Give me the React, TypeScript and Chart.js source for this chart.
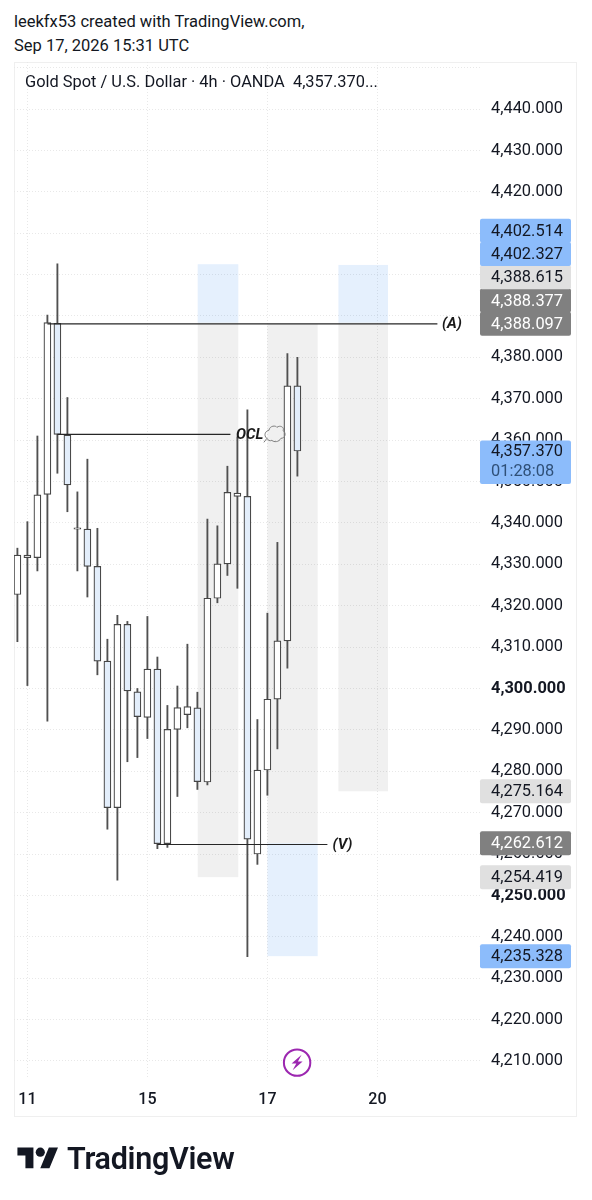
import React, { useEffect, useRef } from "react";
import { Chart, registerables } from "chart.js";

Chart.register(...registerables);

const candleOpen = [4322.7, 4331.6, 4331.6, 4346.9, 4388.2, 4361.2, 4338.5, 4338.5, 4329.5, 4306.6, 4271.2, 4315.5, 4299.2, 4293.0, 4304.7, 4262.5, 4290.1, 4293.7, 4295.3, 4277.4, 4321.8, 4330.1, 4346.4, 4346.4, 4260.0, 4280.3, 4297.4, 4311.5, 4373.1];
const candleHigh = [4333.9, 4340.3, 4361.0, 4390.2, 4402.6, 4370.3, 4347.5, 4355.4, 4338.7, 4311.9, 4317.7, 4316.2, 4300.0, 4317.4, 4307.6, 4295.9, 4300.6, 4310.7, 4299.1, 4340.9, 4339.3, 4353.7, 4360.8, 4367.3, 4292.5, 4318.2, 4335.3, 4380.9, 4380.0];
const candleLow = [4311.3, 4300.7, 4328.4, 4292.1, 4352.0, 4342.7, 4328.4, 4322.1, 4303.3, 4266.0, 4253.7, 4282.3, 4283.3, 4287.9, 4261.3, 4261.6, 4273.9, 4290.5, 4275.6, 4276.7, 4320.7, 4327.3, 4324.2, 4235.2, 4257.5, 4274.2, 4285.4, 4304.9, 4351.3];
const candleClose = [4332.2, 4332.2, 4346.8, 4388.4, 4361.4, 4349.2, 4338.8, 4329.5, 4306.6, 4271.2, 4315.5, 4299.4, 4293.2, 4304.7, 4262.5, 4290.1, 4295.4, 4295.6, 4277.5, 4321.8, 4330.1, 4347.4, 4347.2, 4263.6, 4280.3, 4297.4, 4311.5, 4373.1, 4357.37];

const yTickValues = [4450, 4440, 4430, 4420, 4410, 4400, 4390, 4380, 4370, 4360, 4350, 4340, 4330, 4320, 4310, 4300, 4290, 4280, 4270, 4260, 4250, 4240, 4230, 4220, 4210];
const boldTicks = [4300, 4250];
const xTickPositions = [1, 13, 25, 36];
const xTickLabels = ["11", "15", "17", "20"];

const zoneStart = [18.03, 25, 32.1];
const zoneEnd = [22.09, 30.03, 37.06];
const zoneTop = [4402.514, 4388.097, 4402.327];
const zoneMid = [4388.377, 4262.612, 4388.377];
const zoneBottom = [4254.419, 4235.328, 4275.164];
const zoneUpperKind = ["blue", "gray", "blue"];
const zoneLowerKind = ["gray", "blue", "gray"];

const lineA = [{ x: 3, y: 4388.1 }, { x: 42, y: 4388.1 }];
const lineOCL = [{ x: 4, y: 4361.4 }, { x: 21.3, y: 4361.4 }];
const lineV = [{ x: 14, y: 4262.3 }, { x: 31, y: 4262.3 }];
const noteTexts = ["(A)", "OCL", "(V)"];
const noteX = [42.45, 21.85, 31.5];
const noteY = [4388.1, 4361.4, 4262.3];

const priceLabelValues = [4402.514, 4402.327, 4388.615, 4388.377, 4388.097, 4275.164, 4262.612, 4254.419, 4235.328];
const priceLabelKinds = ["blue", "blue", "light", "dark", "dark", "light", "dark", "light", "blue"];
const currentPrice = 4357.37;
const countdown = "01:28:08";
const zapIndex = 27.97;
const zapPrice = 4209.6;

const fmt = (v: number, d = 3) =>
  v.toLocaleString("en-US", { minimumFractionDigits: d, maximumFractionDigits: d });

const FONT = "Roboto, sans-serif";
const labelStyles: Record<string, { bg: string; fg: string }> = {
  blue: { bg: "#8cbcfb", fg: "#131722" },
  light: { bg: "#e0e0e0", fg: "#131722" },
  dark: { bg: "#808080", fg: "#ffffff" },
};
const zoneColors: Record<string, string> = {
  blue: "rgba(41,132,240,0.12)",
  gray: "rgba(0,0,0,0.06)",
};

const zonesPlugin = {
  id: "zones",
  beforeDatasetsDraw(chart: any) {
    const { ctx, scales } = chart;
    const { x, y } = scales;
    ctx.save();
    zoneStart.forEach((s, i) => {
      const l = x.getPixelForValue(s);
      const r = x.getPixelForValue(zoneEnd[i]);
      const t = y.getPixelForValue(zoneTop[i]);
      const m = y.getPixelForValue(zoneMid[i]);
      const b = y.getPixelForValue(zoneBottom[i]);
      ctx.fillStyle = zoneColors[zoneUpperKind[i]];
      ctx.fillRect(l, t, r - l, m - t);
      ctx.fillStyle = zoneColors[zoneLowerKind[i]];
      ctx.fillRect(l, m, r - l, b - m);
    });
    ctx.restore();
  },
};

function drawCloud(ctx: CanvasRenderingContext2D, cx: number, cy: number) {
  ctx.save();
  ctx.strokeStyle = "#7d7d7d";
  ctx.lineWidth = 1;
  ctx.beginPath();
  ctx.moveTo(cx - 8, cy + 4);
  ctx.bezierCurveTo(cx - 12, cy + 1, cx - 9, cy - 4, cx - 6, cy - 4);
  ctx.bezierCurveTo(cx - 5, cy - 9, cx + 1, cy - 9, cx + 2, cy - 7);
  ctx.bezierCurveTo(cx + 6, cy - 10, cx + 10, cy - 6, cx + 8, cy - 4);
  ctx.bezierCurveTo(cx + 12, cy - 1, cx + 10, cy + 4, cx + 6, cy + 4);
  ctx.bezierCurveTo(cx + 4, cy + 8, cx - 1, cy + 8, cx - 3, cy + 6);
  ctx.bezierCurveTo(cx - 5, cy + 7, cx - 7, cy + 6, cx - 8, cy + 4);
  ctx.moveTo(cx - 8, cy + 4);
  ctx.lineTo(cx - 11, cy + 8);
  ctx.stroke();
  ctx.restore();
}

function drawZap(ctx: CanvasRenderingContext2D, cx: number, cy: number) {
  ctx.save();
  ctx.strokeStyle = "#9c27b0";
  ctx.fillStyle = "#ffffff";
  ctx.lineWidth = 2;
  ctx.beginPath();
  ctx.arc(cx, cy, 13.2, 0, Math.PI * 2);
  ctx.fill();
  ctx.stroke();
  ctx.fillStyle = "#9c27b0";
  ctx.beginPath();
  ctx.moveTo(cx + 4.5, cy - 8);
  ctx.lineTo(cx - 5.5, cy + 0.8);
  ctx.lineTo(cx - 0.8, cy + 0.8);
  ctx.lineTo(cx - 4.5, cy + 7.5);
  ctx.lineTo(cx + 5.5, cy - 1.2);
  ctx.lineTo(cx + 0.8, cy - 1.2);
  ctx.closePath();
  ctx.fill();
  ctx.restore();
}

const overlayPlugin = {
  id: "overlay",
  afterDatasetsDraw(chart: any) {
    const { ctx, scales } = chart;
    const { x, y } = scales;
    ctx.save();
    ctx.fillStyle = "#1a1a1a";
    ctx.font = `italic 700 15px ${FONT}`;
    ctx.textAlign = "left";
    ctx.textBaseline = "middle";
    noteTexts.forEach((t, i) => {
      ctx.fillText(t, x.getPixelForValue(noteX[i]), y.getPixelForValue(noteY[i]) + 0.5);
    });
    ctx.restore();
    drawCloud(ctx, x.getPixelForValue(noteX[1]) + 39, y.getPixelForValue(noteY[1]));
    drawZap(ctx, x.getPixelForValue(zapIndex), y.getPixelForValue(zapPrice));
  },
  afterDraw(chart: any) {
    const { ctx, scales } = chart;
    const { y } = scales;
    const left = 480;
    const width = 91;
    const textX = 491;
    const spacing = 23.3;
    const boxH = 24;
    const round = (yy: number, h: number, bg: string) => {
      ctx.fillStyle = bg;
      ctx.beginPath();
      ctx.roundRect(left, yy, width, h, 2);
      ctx.fill();
    };
    ctx.save();
    ctx.font = `16.4px ${FONT}`;
    ctx.textAlign = "left";
    ctx.textBaseline = "middle";

    const curY = y.getPixelForValue(currentPrice);
    round(curY - 10.5, 43.5, labelStyles.blue.bg);
    ctx.fillStyle = "#131722";
    ctx.fillText(fmt(currentPrice), textX, curY + 1);
    ctx.fillStyle = "#2f5078";
    ctx.fillText(countdown, textX, curY + 21);

    const order = priceLabelValues.map((v, i) => i).sort((a, b) => priceLabelValues[a] - priceLabelValues[b]);
    let prev = Infinity;
    const positions: { yy: number; i: number }[] = [];
    order.forEach((i) => {
      let yy = y.getPixelForValue(priceLabelValues[i]);
      if (yy > prev - spacing) yy = prev - spacing;
      prev = yy;
      positions.push({ yy, i });
    });
    positions.forEach(({ yy, i }) => {
      round(yy - boxH / 2, boxH, labelStyles[priceLabelKinds[i]].bg);
    });
    positions.forEach(({ yy, i }) => {
      ctx.fillStyle = labelStyles[priceLabelKinds[i]].fg;
      ctx.fillText(fmt(priceLabelValues[i]), textX, yy + 1);
    });
    ctx.restore();
  },
};

const lineDataset = (data: { x: number; y: number }[]) => ({
  type: "line",
  data,
  borderColor: "#262626",
  borderWidth: 1.2,
  pointRadius: 0,
  order: 1,
  parsing: false,
});

export default function App() {
  const ref = useRef<HTMLCanvasElement | null>(null);

  useEffect(() => {
    if (!ref.current) return;
    const idx = candleOpen.map((_, i) => i);
    const chart = new Chart(ref.current, {
      type: "bar",
      data: {
        datasets: [
          {
            type: "bar",
            data: idx.map((i) => ({ x: i, y: [candleLow[i], candleHigh[i]] })),
            backgroundColor: "#505050",
            borderWidth: 0,
            barThickness: 1.2,
            grouped: false,
            order: 3,
          },
          {
            type: "bar",
            data: idx.map((i) => ({
              x: i,
              y: [Math.min(candleOpen[i], candleClose[i]), Math.max(candleOpen[i], candleClose[i])],
            })),
            backgroundColor: idx.map((i) => (candleClose[i] >= candleOpen[i] ? "#ffffff" : "#e3eefb")),
            borderColor: "#454545",
            borderWidth: 1.2,
            borderSkipped: false,
            barThickness: 7,
            grouped: false,
            order: 2,
          },
          lineDataset(lineA),
          lineDataset(lineOCL),
          lineDataset(lineV),
        ],
      } as any,
      options: {
        responsive: false,
        animation: false,
        events: [],
        layout: { padding: { left: 14, top: 62, right: 0, bottom: 0 } },
        plugins: { legend: { display: false }, tooltip: { enabled: false }, title: { display: false } },
        scales: {
          x: {
            type: "linear",
            offset: false,
            min: -0.34,
            max: 46.46,
            afterFit(scale: any) {
              scale.height = 123;
            },
            afterBuildTicks(scale: any) {
              scale.ticks = xTickPositions.map((value) => ({ value }));
            },
            border: { display: false, dash: [1, 2] },
            grid: { color: "#e8e8e8", drawTicks: false, offset: false },
            ticks: {
              autoSkip: false,
              maxRotation: 0,
              padding: 13,
              color: "#131722",
              font: { family: FONT, size: 16, weight: "500" },
              callback: (v: any) => xTickLabels[xTickPositions.indexOf(Number(v))] ?? "",
            },
          },
          y: {
            type: "linear",
            position: "right",
            min: 4206.13,
            max: 4451.36,
            afterFit(scale: any) {
              scale.width = 110;
            },
            afterBuildTicks(scale: any) {
              scale.ticks = yTickValues.map((value) => ({ value }));
            },
            border: { display: false, dash: [1, 2] },
            grid: { color: "#e8e8e8", drawTicks: false },
            ticks: {
              autoSkip: false,
              padding: 9,
              color: "#131722",
              font: (c: any) => ({
                family: FONT,
                size: 16.4,
                weight: boldTicks.includes(c.tick?.value) ? "700" : "400",
              }),
              callback: (v: any) => (Number(v) >= 4450 ? "" : fmt(Number(v))),
            },
          },
        },
      } as any,
      plugins: [zonesPlugin, overlayPlugin] as any,
    });
    return () => chart.destroy();
  }, []);

  const textStyle: React.CSSProperties = {
    position: "absolute",
    fontFamily: FONT,
    color: "#131722",
    whiteSpace: "pre",
    lineHeight: "24px",
  };

  return (
    <div style={{ position: "absolute", left: 0, top: 0, width: 592, height: 1200, overflow: "hidden", background: "#fff" }}>
      <div style={{ ...textStyle, left: 14, top: 10, fontSize: 16.5 }}>leekfx53 created with TradingView.com,</div>
      <div style={{ ...textStyle, left: 14, top: 34, fontSize: 16.5 }}>Sep 17, 2026 15:31 UTC</div>
      <div style={{ position: "absolute", left: 14, top: 62, width: 563, height: 1055, border: "1px solid #efefef", boxSizing: "border-box" }} />
      <canvas ref={ref} width={592} height={1200} style={{ position: "absolute", left: 0, top: 0, display: "block" }} />
      <div style={{ ...textStyle, left: 25, top: 70, fontSize: 16.4 }}>{"Gold Spot / U.S. Dollar · 4h · OANDA  4,357.370..."}</div>
      <svg style={{ position: "absolute", left: 17, top: 1142.5 }} width="42" height="32" viewBox="0 0 36 28">
        <path d="M14 22H7V11H0V4h14v18zM28 22h-8l7.5-18h8L28 22z" fill="#131722" />
        <circle cx="20" cy="8" r="4" fill="#131722" />
      </svg>
      <div style={{ ...textStyle, left: 67, top: 1140, fontSize: 30.5, fontWeight: 600, lineHeight: "38px", letterSpacing: -0.3 }}>TradingView</div>
    </div>
  );
}
